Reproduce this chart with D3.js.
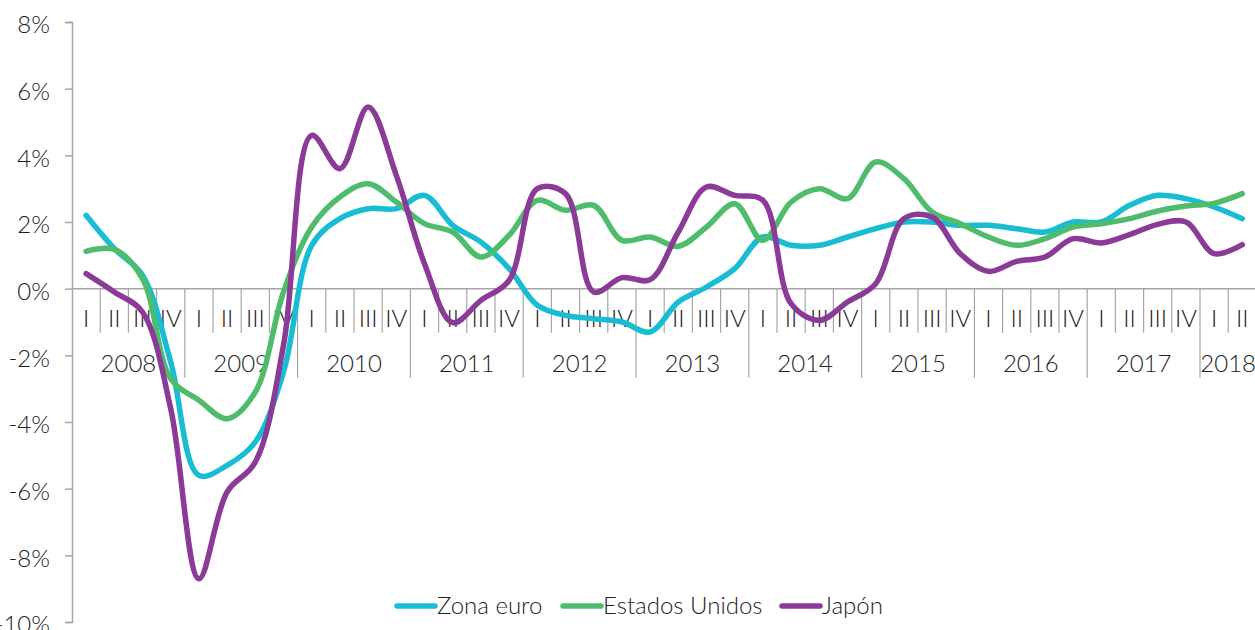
<!DOCTYPE html>
<html><head><meta charset="utf-8">
<script src="https://cdn.jsdelivr.net/npm/d3@7"></script>
<style>
body{margin:0;background:#fff;}
svg{display:block;font-family:Lato,"Open Sans",sans-serif;font-weight:300;}
</style></head>
<body><svg id="c" width="1255" height="630"></svg>
<script>
const years = ["2008","2009","2010","2011","2012","2013","2014","2015","2016","2017","2018"];
const quarterNames = ["I","II","III","IV"];
const yTicks = [8,6,4,2,0,-2,-4,-6,-8,-10];
const zonaEuro = [2.2,1.2,0.4,-2.2,-5.6,-5.3,-4.6,-2.5,1.3,2.1,2.4,2.4,2.8,1.9,1.4,0.6,-0.5,-0.8,-0.9,-1.0,-1.3,-0.4,0.05,0.6,1.55,1.3,1.3,1.55,1.8,2.0,2.0,1.9,1.9,1.8,1.7,2.0,2.0,2.5,2.8,2.7,2.45,2.1];
const estadosUnidos = [1.12,1.18,0.3,-2.7,-3.35,-3.9,-3.1,-0.1,1.85,2.75,3.15,2.6,1.95,1.7,0.95,1.6,2.65,2.35,2.5,1.45,1.55,1.27,1.85,2.55,1.45,2.6,3.0,2.7,3.8,3.3,2.3,1.95,1.55,1.3,1.5,1.85,1.95,2.1,2.33,2.48,2.56,2.85];
const japon = [0.45,-0.1,-0.7,-3.6,-8.7,-6.1,-5.2,-1.7,4.6,3.6,5.45,3.4,0.75,-1.02,-0.35,0.25,3.0,2.85,-0.1,0.33,0.27,1.7,3.05,2.8,2.65,-0.45,-0.95,-0.4,0.15,2.1,2.15,1.05,0.52,0.82,0.95,1.5,1.37,1.62,1.93,2.0,1.05,1.32];
const seriesNames = ["Zona euro","Estados Unidos","Japón"];
const seriesColors = ["#19bdd3","#4fbc6c","#8b3a97"];

const quarters = [];
years.forEach((y,yi)=>{ const n = y==="2018"?2:4; for(let q=0;q<n;q++) quarters.push({key:y+"-"+q, year:y, q:quarterNames[q]}); });

const svg = d3.select("#c");
const x0 = 72, bandW = 28.2;
const x = d3.scaleBand().domain(quarters.map(d=>d.key)).range([x0, x0 + bandW*quarters.length]).padding(0);
const y = d3.scaleLinear().domain([-10,8]).range([622,22]);
const axisCol = "#a6a6a6", txtCol = "#222";
const fs = 24;

// y axis
const yAx = svg.append("g").attr("transform",`translate(${x0},0)`)
  .call(d3.axisLeft(y).tickValues(yTicks).tickSize(7).tickPadding(15).tickFormat(d=>d+"%"));
yAx.select(".domain").attr("stroke",axisCol).attr("stroke-width",1.5);
yAx.selectAll(".tick line").attr("stroke",axisCol).attr("stroke-width",1.5);
yAx.selectAll(".tick text").attr("fill",txtCol).attr("font-size",fs).attr("font-family","Lato").attr("font-weight",300).attr("dy","0.45em");

// x axis at zero
const y0 = y(0);
const xg = svg.append("g");
xg.append("line").attr("x1",x0).attr("x2",x0+bandW*quarters.length).attr("y1",y0).attr("y2",y0).attr("stroke",axisCol).attr("stroke-width",1.5);
quarters.forEach((d,i)=>{
  const left = x(d.key);
  const isYearStart = d.q==="I";
  if(i>0){
    xg.append("line").attr("x1",left).attr("x2",left).attr("y1",y0).attr("y2",isYearStart? y0+89 : y0+44).attr("stroke",axisCol).attr("stroke-width",1.2);
  }
  xg.append("text").attr("x",left+bandW/2).attr("y",y0+38).attr("text-anchor","middle").attr("fill",txtCol).attr("font-size",fs).text(d.q);
});
years.forEach(yr=>{
  const qs = quarters.filter(d=>d.year===yr);
  const a = x(qs[0].key), b = x(qs[qs.length-1].key)+bandW;
  xg.append("text").attr("x",(a+b)/2).attr("y",y0+83).attr("text-anchor","middle").attr("fill",txtCol).attr("font-size",fs).text(yr);
});

// lines
const all = [zonaEuro, estadosUnidos, japon];
const line = d3.line().x((d,i)=>x(quarters[i].key)+bandW/2).y(d=>y(d)).curve(d3.curveCatmullRom.alpha(0.5));
all.forEach((s,k)=>{
  svg.append("path").datum(s).attr("d",line).attr("fill","none").attr("stroke",seriesColors[k]).attr("stroke-width",5.5).attr("stroke-linecap","round").attr("stroke-linejoin","round");
});

// legend
const legX = [397,563,782];
seriesNames.forEach((n,k)=>{
  const g = svg.append("g").attr("transform",`translate(${legX[k]},606)`);
  g.append("line").attr("x1",0).attr("x2",38).attr("y1",0).attr("y2",0).attr("stroke",seriesColors[k]).attr("stroke-width",5.5).attr("stroke-linecap","round");
  g.append("text").attr("x",40).attr("y",8).attr("fill",txtCol).attr("font-size",fs).text(n);
});
</script></body></html>
